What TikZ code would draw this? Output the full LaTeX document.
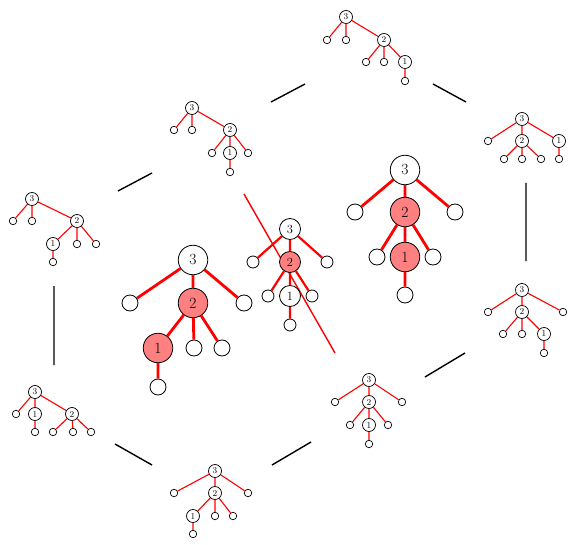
\documentclass[tikz,border=0pt]{standalone}
\tikzset{
  tnS/.style={circle,draw,line width=0.7pt,inner sep=0pt,minimum size=13pt,font=\fontsize{9}{9}\selectfont},
  lfS/.style={circle,draw,line width=0.7pt,inner sep=0pt,minimum size=7.5pt},
  edS/.style={red,line width=1.1pt},
  tnM/.style={circle,draw,line width=0.8pt,inner sep=0pt,minimum size=21pt,font=\fontsize{12.5}{12.5}\selectfont},
  lfM/.style={circle,draw,line width=0.8pt,inner sep=0pt,minimum size=12pt},
  edM/.style={red,line width=2.2pt},
  tnB/.style={circle,draw,line width=0.8pt,inner sep=0pt,minimum size=29.5pt,font=\fontsize{15.5}{15.5}\selectfont},
  lfB/.style={circle,draw,line width=0.8pt,inner sep=0pt,minimum size=16pt},
  edB/.style={red,line width=2.8pt},
  hl/.style={fill=red!50},
  link/.style={black,line width=1.4pt},
  cut/.style={red,line width=1.4pt},
}
\begin{document}
\begin{tikzpicture}[x=1pt,y=-1pt]
\useasboundingbox (0,0) rectangle (572,545);
% links
\coordinate (l1a) at (271,102); \coordinate (l1b) at (305,84);
\coordinate (l2a) at (433,84);  \coordinate (l2b) at (466,102);
\coordinate (l3a) at (118,191); \coordinate (l3b) at (152,173);
\coordinate (l4a) at (526,183); \coordinate (l4b) at (526,261);
\coordinate (l5a) at (54,286);  \coordinate (l5b) at (54,365);
\coordinate (l6a) at (425,377); \coordinate (l6b) at (465,353);
\coordinate (l7a) at (115,444); \coordinate (l7b) at (152,465);
\coordinate (l8a) at (272,465); \coordinate (l8b) at (311,442);
\draw[link] (l1a)--(l1b) (l2a)--(l2b) (l3a)--(l3b) (l4a)--(l4b)
  (l5a)--(l5b) (l6a)--(l6b) (l7a)--(l7b) (l8a)--(l8b);
\coordinate (cA) at (244,194); \coordinate (cB) at (335,353);
\draw[cut] (cA)--(cB);
% Tree A (top)
\node[tnS] (a3) at (346,17) {3};
\node[lfS] (aL1) at (327,40) {};
\node[lfS] (aL2) at (346,40) {};
\node[tnS] (a2) at (384,40) {2};
\node[lfS] (aL3) at (366,62) {};
\node[lfS] (aL4) at (384,62) {};
\node[tnS] (a1) at (405,62) {1};
\node[lfS] (aL5) at (405,81) {};
\draw[edS] (a3)--(aL1) (a3)--(aL2) (a3)--(a2) (a2)--(aL3) (a2)--(aL4) (a2)--(a1) (a1)--(aL5);
% Tree B
\node[tnS] (b3) at (192,108) {3};
\node[lfS] (bL1) at (174,130) {};
\node[lfS] (bL2) at (192,130) {};
\node[tnS] (b2) at (230,130) {2};
\node[lfS] (bL3) at (212,153) {};
\node[tnS] (b1) at (230,153) {1};
\node[lfS] (bL4) at (248,153) {};
\node[lfS] (bL5) at (230,172) {};
\draw[edS] (b3)--(bL1) (b3)--(bL2) (b3)--(b2) (b2)--(bL3) (b2)--(b1) (b2)--(bL4) (b1)--(bL5);
% Tree C
\node[tnS] (c3) at (32,199) {3};
\node[lfS] (cL1) at (13,221) {};
\node[lfS] (cL2) at (32,221) {};
\node[tnS] (c2) at (77,221) {2};
\node[tnS] (c1) at (53,244) {1};
\node[lfS] (cL3) at (77,244) {};
\node[lfS] (cL4) at (96,244) {};
\node[lfS] (cL5) at (53,262) {};
\draw[edS] (c3)--(cL1) (c3)--(cL2) (c3)--(c2) (c2)--(c1) (c2)--(cL3) (c2)--(cL4) (c1)--(cL5);
% Tree D (big, left)
\node[tnB] (d3) at (193,260) {3};
\node[lfB] (dL1) at (130,303) {};
\node[tnB,hl] (d2) at (193,303) {2};
\node[lfB] (dL2) at (244,303) {};
\node[tnB,hl] (d1) at (158,348) {1};
\node[lfB] (dL3) at (194,348) {};
\node[lfB] (dL4) at (222,348) {};
\node[lfB] (dL5) at (158,387) {};
\draw[edB] (d3)--(dL1) (d3)--(d2) (d3)--(dL2) (d2)--(d1) (d2)--(dL3) (d2)--(dL4) (d1)--(dL5);
% Tree E (medium, centre)
\node[tnM] (e3) at (290,229) {3};
\node[lfM] (eL1) at (253,262) {};
\node[tnM,hl] (e2) at (290,262) {2};
\node[lfM] (eL2) at (327,262) {};
\node[lfM] (eL3) at (268,296) {};
\node[tnM] (e1) at (290,296) {1};
\node[lfM] (eL4) at (312,296) {};
\node[lfM] (eL5) at (290,325) {};
\draw[edM] (e3)--(eL1) (e3)--(e2) (e3)--(eL2) (e2)--(eL3) (e2)--(e1) (e2)--(eL4) (e1)--(eL5);
% Tree F (big, right)
\node[tnB] (f3) at (405,170) {3};
\node[lfB] (fL1) at (355,212) {};
\node[tnB,hl] (f2) at (405,212) {2};
\node[lfB] (fL2) at (455,212) {};
\node[lfB] (fL3) at (377,257) {};
\node[tnB,hl] (f1) at (405,257) {1};
\node[lfB] (fL4) at (433,257) {};
\node[lfB] (fL5) at (405,295) {};
\draw[edB] (f3)--(fL1) (f3)--(f2) (f3)--(fL2) (f2)--(fL3) (f2)--(f1) (f2)--(fL4) (f1)--(fL5);
% Tree G
\node[tnS] (g3) at (522,119) {3};
\node[lfS] (gL1) at (488,141) {};
\node[tnS] (g2) at (522,141) {2};
\node[tnS] (g1) at (559,141) {1};
\node[lfS] (gL2) at (504,159) {};
\node[lfS] (gL3) at (522,159) {};
\node[lfS] (gL4) at (541,159) {};
\node[lfS] (gL5) at (559,159) {};
\draw[edS] (g3)--(gL1) (g3)--(g2) (g3)--(g1) (g2)--(gL2) (g2)--(gL3) (g2)--(gL4) (g1)--(gL5);
% Tree H
\node[tnS] (h3) at (522,290) {3};
\node[lfS] (hL1) at (488,312) {};
\node[tnS] (h2) at (522,312) {2};
\node[lfS] (hL2) at (563,312) {};
\node[lfS] (hL3) at (503,334) {};
\node[lfS] (hL4) at (522,334) {};
\node[tnS] (h1) at (544,334) {1};
\node[lfS] (hL5) at (544,353) {};
\draw[edS] (h3)--(hL1) (h3)--(h2) (h3)--(hL2) (h2)--(hL3) (h2)--(hL4) (h2)--(h1) (h1)--(hL5);
% Tree I
\node[tnS] (i3) at (369,380) {3};
\node[lfS] (iL1) at (335,402) {};
\node[tnS] (i2) at (369,402) {2};
\node[lfS] (iL2) at (402,402) {};
\node[lfS] (iL3) at (350,425) {};
\node[tnS] (i1) at (369,425) {1};
\node[lfS] (iL4) at (388,425) {};
\node[lfS] (iL5) at (369,444) {};
\draw[edS] (i3)--(iL1) (i3)--(i2) (i3)--(iL2) (i2)--(iL3) (i2)--(i1) (i2)--(iL4) (i1)--(iL5);
% Tree J
\node[tnS] (j3) at (35,392) {3};
\node[lfS] (jL1) at (16,414) {};
\node[tnS] (j1) at (35,414) {1};
\node[tnS] (j2) at (72,414) {2};
\node[lfS] (jL2) at (35,432) {};
\node[lfS] (jL3) at (53,432) {};
\node[lfS] (jL4) at (73,432) {};
\node[lfS] (jL5) at (91,432) {};
\draw[edS] (j3)--(jL1) (j3)--(j1) (j3)--(j2) (j1)--(jL2) (j2)--(jL3) (j2)--(jL4) (j2)--(jL5);
% Tree K
\node[tnS] (k3) at (215,471) {3};
\node[lfS] (kL1) at (174,493) {};
\node[tnS] (k2) at (215,493) {2};
\node[lfS] (kL2) at (248,493) {};
\node[tnS] (k1) at (193,516) {1};
\node[lfS] (kL3) at (215,516) {};
\node[lfS] (kL4) at (233,516) {};
\node[lfS] (kL5) at (193,534) {};
\draw[edS] (k3)--(kL1) (k3)--(k2) (k3)--(kL2) (k2)--(k1) (k2)--(kL3) (k2)--(kL4) (k1)--(kL5);
\end{tikzpicture}
\end{document}
